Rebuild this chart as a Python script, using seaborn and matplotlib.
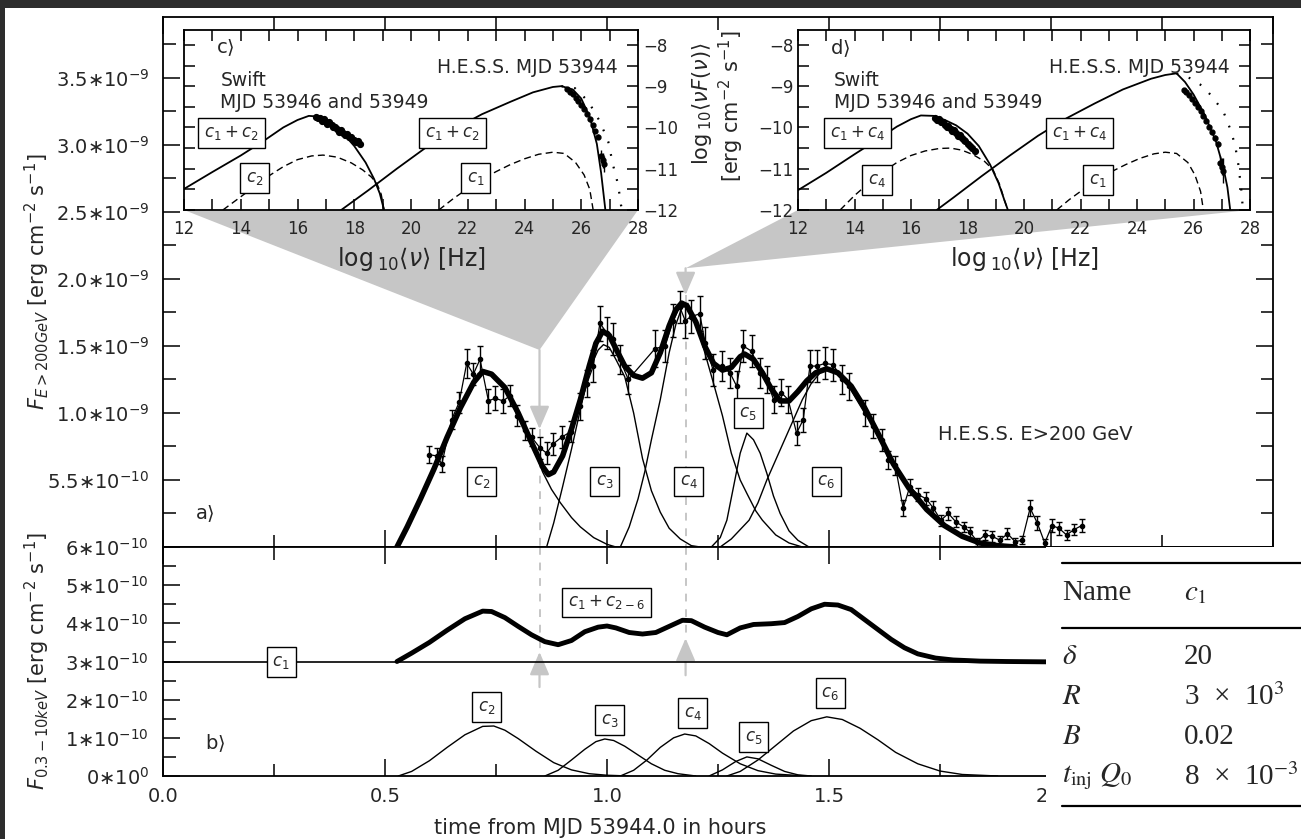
# Light curve + SED insets (H.E.S.S. / Swift), redrawn with seaborn
import matplotlib
matplotlib.use("Agg")
import matplotlib.pyplot as plt
import seaborn as sns
from matplotlib.patches import Polygon, Rectangle
from matplotlib.lines import Line2D
from matplotlib.ticker import MultipleLocator, FixedLocator, FixedFormatter

# ---------------- panel a: H.E.S.S. E>200 GeV (flux in 1e-9 erg cm-2 s-1) ----------------
hess_t = [0.598, 0.616, 0.628, 0.650, 0.667, 0.684, 0.699, 0.714, 0.733, 0.748, 0.766, 0.782,
          0.797, 0.815, 0.830, 0.849, 0.864, 0.879, 0.898, 0.918, 0.939, 0.955, 0.969, 0.984,
          0.999, 1.014, 1.029, 1.048, 1.108, 1.131, 1.149, 1.164, 1.176, 1.190, 1.209, 1.221,
          1.239, 1.258, 1.277, 1.292, 1.307, 1.326, 1.345, 1.360, 1.375, 1.393, 1.408, 1.427,
          1.442, 1.457, 1.472, 1.491, 1.510, 1.529, 1.544, 1.580, 1.600, 1.619, 1.634, 1.649,
          1.667, 1.682, 1.701, 1.719, 1.735, 1.752, 1.769, 1.785, 1.803, 1.818, 1.834, 1.851,
          1.868, 1.885, 1.902, 1.919, 1.935, 1.953, 1.969, 1.986, 2.002, 2.018, 2.035, 2.052, 2.069]
hess_f = [0.69, 0.68, 0.62, 0.95, 1.08, 1.37, 1.29, 1.40, 1.09, 1.11, 1.09, 1.13,
          0.98, 0.87, 0.82, 0.74, 0.70, 0.77, 0.82, 0.86, 1.05, 1.22, 1.35, 1.67,
          1.60, 1.55, 1.40, 1.25, 1.48, 1.50, 1.69, 1.79, 1.69, 1.72, 1.74, 1.52,
          1.32, 1.35, 1.30, 1.20, 1.50, 1.46, 1.30, 1.25, 1.10, 1.15, 1.10, 0.85,
          0.95, 1.35, 1.35, 1.37, 1.36, 1.25, 1.20, 1.00, 0.90, 0.80, 0.65, 0.61,
          0.29, 0.45, 0.39, 0.36, 0.29, 0.20, 0.25, 0.19, 0.15, 0.11, 0.04, 0.09,
          0.08, 0.05, 0.10, 0.04, 0.05, 0.29, 0.18, 0.03, 0.16, 0.14, 0.09, 0.13, 0.16]
hess_err = [0.06, 0.06, 0.06, 0.07, 0.08, 0.11, 0.08, 0.10, 0.09, 0.09, 0.09, 0.08,
            0.08, 0.07, 0.07, 0.08, 0.08, 0.08, 0.08, 0.08, 0.10, 0.10, 0.12, 0.13,
            0.12, 0.12, 0.11, 0.11, 0.14, 0.12, 0.12, 0.12, 0.13, 0.12, 0.13, 0.12,
            0.12, 0.11, 0.11, 0.11, 0.12, 0.12, 0.11, 0.10, 0.10, 0.10, 0.10, 0.09,
            0.09, 0.12, 0.12, 0.12, 0.12, 0.11, 0.10, 0.10, 0.09, 0.08, 0.07, 0.07,
            0.06, 0.06, 0.05, 0.05, 0.05, 0.04, 0.05, 0.04, 0.04, 0.04, 0.03, 0.04,
            0.04, 0.03, 0.04, 0.03, 0.03, 0.06, 0.05, 0.03, 0.05, 0.05, 0.04, 0.04, 0.05]

# model: sum of components (thick) and single components
tot_a_t = [0.527, 0.55, 0.58, 0.61, 0.64, 0.67, 0.70, 0.72, 0.74, 0.77, 0.80, 0.83, 0.855, 0.868,
           0.88, 0.90, 0.92, 0.94, 0.96, 0.975, 0.99, 1.005, 1.02, 1.04, 1.06, 1.08, 1.10, 1.12,
           1.14, 1.155, 1.168, 1.18, 1.20, 1.22, 1.24, 1.26, 1.28, 1.30, 1.31, 1.33, 1.35, 1.37,
           1.39, 1.41, 1.43, 1.45, 1.47, 1.495, 1.52, 1.55, 1.58, 1.61, 1.645, 1.68, 1.72, 1.76,
           1.80, 1.84, 1.88, 1.92]
tot_a_f = [0.0, 0.15, 0.36, 0.58, 0.82, 1.04, 1.23, 1.31, 1.29, 1.19, 1.00, 0.78, 0.60, 0.54,
           0.56, 0.68, 0.88, 1.10, 1.35, 1.52, 1.61, 1.58, 1.48, 1.35, 1.28, 1.26, 1.30, 1.45,
           1.65, 1.77, 1.82, 1.80, 1.68, 1.50, 1.37, 1.32, 1.34, 1.42, 1.44, 1.40, 1.30, 1.18,
           1.09, 1.09, 1.16, 1.24, 1.30, 1.33, 1.30, 1.20, 1.04, 0.85, 0.62, 0.44, 0.28, 0.16,
           0.08, 0.03, 0.01, 0.0]
c2_a_t = [0.527, 0.55, 0.58, 0.61, 0.64, 0.67, 0.70, 0.72, 0.74, 0.77, 0.80, 0.83, 0.855, 0.875,
          0.895, 0.92, 0.94, 0.97, 1.0, 1.02]
c2_a_f = [0.0, 0.15, 0.36, 0.58, 0.82, 1.04, 1.23, 1.31, 1.29, 1.19, 1.00, 0.78, 0.56, 0.43,
          0.33, 0.22, 0.15, 0.07, 0.02, 0.0]
c3_a_t = [0.864, 0.88, 0.90, 0.92, 0.945, 0.965, 0.98, 0.992, 1.005, 1.02, 1.04, 1.06, 1.08,
          1.10, 1.12, 1.14, 1.165, 1.19, 1.21]
c3_a_f = [0.0, 0.18, 0.45, 0.73, 1.10, 1.36, 1.47, 1.51, 1.49, 1.40, 1.27, 1.00, 0.66,
          0.42, 0.26, 0.14, 0.06, 0.01, 0.0]
c4_a_t = [1.03, 1.05, 1.07, 1.085, 1.10, 1.12, 1.14, 1.155, 1.168, 1.178, 1.19, 1.21, 1.24,
          1.26, 1.28, 1.30, 1.315, 1.335, 1.35, 1.38, 1.41, 1.44]
c4_a_f = [0.0, 0.15, 0.36, 0.56, 0.80, 1.10, 1.45, 1.66, 1.78, 1.81, 1.76, 1.57, 1.22,
          0.98, 0.70, 0.50, 0.40, 0.27, 0.20, 0.09, 0.03, 0.0]
c5_a_t = [1.235, 1.255, 1.27, 1.285, 1.30, 1.315, 1.33, 1.345, 1.36, 1.375, 1.39, 1.41, 1.43, 1.455]
c5_a_f = [0.0, 0.07, 0.20, 0.45, 0.70, 0.85, 0.80, 0.70, 0.55, 0.38, 0.25, 0.12, 0.05, 0.0]
c6_a_t = [1.255, 1.28, 1.30, 1.32, 1.34, 1.36, 1.38, 1.40, 1.42, 1.44, 1.46, 1.48, 1.50, 1.52,
          1.55, 1.58, 1.61, 1.645, 1.68, 1.72, 1.76, 1.80, 1.84, 1.88, 1.92]
c6_a_f = [0.0, 0.06, 0.13, 0.20, 0.33, 0.50, 0.65, 0.80, 0.95, 1.10, 1.22, 1.30, 1.33, 1.30,
          1.20, 1.04, 0.85, 0.62, 0.44, 0.28, 0.16, 0.08, 0.03, 0.01, 0.0]

# ---------------- panel b: 0.3-10 keV model flux (in 1e-10 erg cm-2 s-1) ----------------
c1_b_t = [0.0, 2.5]
c1_b_f = [3.0, 3.0]
tot_b_t = [0.527, 0.56, 0.60, 0.64, 0.68, 0.72, 0.74, 0.77, 0.80, 0.83, 0.86, 0.89, 0.92, 0.95,
           0.98, 1.0, 1.02, 1.05, 1.08, 1.11, 1.14, 1.17, 1.19, 1.22, 1.25, 1.27, 1.30, 1.33,
           1.37, 1.40, 1.43, 1.46, 1.49, 1.52, 1.55, 1.58, 1.61, 1.64, 1.67, 1.70, 1.74, 1.78,
           1.84, 1.90, 2.0]
tot_b_f = [3.0, 3.22, 3.50, 3.82, 4.12, 4.32, 4.31, 4.15, 3.92, 3.70, 3.52, 3.44, 3.55, 3.78,
           3.90, 3.93, 3.88, 3.76, 3.72, 3.76, 3.92, 4.08, 4.07, 3.90, 3.76, 3.70, 3.88, 3.97,
           3.99, 4.02, 4.18, 4.38, 4.50, 4.48, 4.36, 4.10, 3.84, 3.58, 3.36, 3.20, 3.09, 3.04,
           3.01, 3.0, 2.99]
c2_b_t = [0.53, 0.56, 0.60, 0.64, 0.68, 0.72, 0.745, 0.77, 0.80, 0.84, 0.88, 0.92, 0.96, 1.0, 1.05]
c2_b_f = [0.0, 0.12, 0.40, 0.75, 1.08, 1.30, 1.31, 1.20, 0.98, 0.65, 0.35, 0.16, 0.06, 0.02, 0.0]
c3_b_t = [0.86, 0.89, 0.92, 0.95, 0.975, 0.995, 1.015, 1.04, 1.07, 1.10, 1.13, 1.16, 1.20]
c3_b_f = [0.0, 0.15, 0.42, 0.70, 0.90, 0.97, 0.93, 0.78, 0.55, 0.32, 0.15, 0.06, 0.0]
c4_b_t = [1.03, 1.06, 1.09, 1.12, 1.15, 1.175, 1.20, 1.23, 1.26, 1.30, 1.34, 1.38, 1.45]
c4_b_f = [0.0, 0.15, 0.42, 0.75, 1.00, 1.10, 1.05, 0.85, 0.60, 0.32, 0.14, 0.05, 0.0]
c5_b_t = [1.23, 1.26, 1.29, 1.315, 1.34, 1.37, 1.40, 1.43, 1.46]
c5_b_f = [0.0, 0.16, 0.38, 0.50, 0.45, 0.28, 0.12, 0.03, 0.0]
c6_b_t = [1.27, 1.30, 1.34, 1.38, 1.42, 1.46, 1.495, 1.53, 1.57, 1.61, 1.65, 1.70, 1.75, 1.80, 1.88]
c6_b_f = [0.0, 0.12, 0.42, 0.80, 1.18, 1.45, 1.55, 1.48, 1.25, 0.95, 0.62, 0.32, 0.13, 0.04, 0.0]

# ---------------- inset c: SED with c1 + c2 (log10 nu, log10 nuFnu) ----------------
syn_c_x = [12.0, 13.0, 14.0, 14.8, 15.5, 16.0, 16.4, 16.8, 17.2, 17.6, 18.0, 18.4, 18.7, 18.9, 19.05]
syn_c_y = [-11.49, -11.08, -10.68, -10.33, -10.0, -9.82, -9.72, -9.74, -9.9, -10.14, -10.45,
           -10.85, -11.25, -11.6, -12.0]
ic_c_x = [17.54, 18.5, 19.5, 20.5, 21.5, 22.5, 23.5, 24.3, 25.0, 25.3, 25.7, 26.0, 26.3, 26.55, 26.7, 26.85]
ic_c_y = [-12.0, -11.52, -11.0, -10.5, -10.05, -9.68, -9.38, -9.15, -9.02, -9.0, -9.08, -9.3,
          -9.75, -10.4, -11.1, -12.0]
dsyn_c_x = [13.37, 14.0, 14.5, 15.0, 15.5, 16.0, 16.5, 16.9, 17.4, 17.9, 18.3, 18.6, 18.8, 18.95, 19.05]
dsyn_c_y = [-12.0, -11.68, -11.42, -11.17, -10.95, -10.78, -10.69, -10.67, -10.72, -10.86,
            -11.03, -11.2, -11.36, -11.62, -12.0]
dic_c_x = [20.98, 21.5, 22.0, 22.5, 23.0, 23.5, 24.0, 24.5, 25.0, 25.4, 25.8, 26.1, 26.3, 26.42]
dic_c_y = [-12.0, -11.72, -11.48, -11.26, -11.07, -10.9, -10.76, -10.65, -10.6, -10.63,
           -10.85, -11.15, -11.5, -12.0]
dot_c_x = [25.3, 25.78, 26.25, 26.66, 26.95, 27.12, 27.3, 27.4, 27.45]
dot_c_y = [-9.0, -9.05, -9.37, -9.86, -10.34, -10.91, -11.39, -11.88, -12.0]
xr_c_x = [16.65, 16.72, 16.8, 16.85, 16.92, 17.0, 17.05, 17.12, 17.2, 17.25, 17.32, 17.4,
          17.45, 17.52, 17.6, 17.68, 17.75, 17.82, 17.9, 17.98, 18.05, 18.12, 18.2]
xr_c_y = [-9.74, -9.78, -9.76, -9.84, -9.8, -9.86, -9.92, -9.88, -9.95, -10.0, -9.98, -10.05,
          -10.1, -10.06, -10.14, -10.18, -10.15, -10.24, -10.22, -10.3, -10.35, -10.32, -10.4]
tev_c_x = [25.5, 25.6, 25.7, 25.8, 25.9, 26.0, 26.1, 26.2, 26.3, 26.4, 26.5, 26.6, 26.7, 26.75, 26.8]
tev_c_y = [-9.08, -9.13, -9.2, -9.28, -9.36, -9.46, -9.56, -9.68, -9.8, -9.94, -10.08, -10.22,
           -10.7, -10.8, -10.88]
tev_c_err = [0.03, 0.03, 0.03, 0.03, 0.03, 0.03, 0.04, 0.04, 0.04, 0.05, 0.05, 0.06, 0.15, 0.18, 0.2]

# ---------------- inset d: SED with c1 + c4 ----------------
syn_d_x = [12.0, 13.0, 14.0, 14.8, 15.5, 16.0, 16.35, 16.8, 17.2, 17.6, 18.0, 18.4, 18.8, 19.1, 19.3, 19.43]
syn_d_y = [-11.52, -11.1, -10.65, -10.3, -9.98, -9.8, -9.71, -9.72, -9.82, -9.95, -10.15,
           -10.45, -10.9, -11.35, -11.75, -12.0]
ic_d_x = [16.91, 17.5, 18.5, 19.5, 20.5, 21.5, 22.5, 23.5, 24.5, 25.0, 25.4, 25.7, 26.0,
          26.4, 26.8, 27.05, 27.2, 27.3]
ic_d_y = [-12.0, -11.7, -11.18, -10.68, -10.2, -9.78, -9.42, -9.08, -8.82, -8.73, -8.69,
          -8.9, -9.2, -9.7, -10.35, -10.95, -11.45, -12.0]
dsyn_d_x = [13.49, 14.0, 14.5, 15.0, 15.5, 16.0, 16.5, 17.0, 17.4, 17.8, 18.2, 18.6, 18.9,
            19.15, 19.3, 19.43]
dsyn_d_y = [-12.0, -11.65, -11.35, -11.08, -10.85, -10.68, -10.57, -10.51, -10.5, -10.55,
            -10.66, -10.82, -11.02, -11.4, -11.75, -12.0]
dic_d_x = [21.16, 21.6, 22.1, 22.6, 23.1, 23.6, 24.1, 24.6, 25.0, 25.4, 25.8, 26.05, 26.25, 26.35]
dic_d_y = [-12.0, -11.75, -11.5, -11.27, -11.07, -10.9, -10.75, -10.64, -10.6, -10.63,
           -10.85, -11.15, -11.55, -12.0]
dot_d_x = [25.4, 25.88, 26.35, 26.7, 27.06, 27.29, 27.47, 27.59, 27.7, 27.75]
dot_d_y = [-8.69, -8.81, -9.01, -9.29, -9.62, -10.02, -10.42, -10.91, -11.56, -12.0]
xr_d_x = [16.85, 16.92, 17.0, 17.06, 17.12, 17.2, 17.26, 17.32, 17.4, 17.46, 17.52, 17.6,
          17.66, 17.72, 17.8, 17.86, 17.92, 18.0, 18.08, 18.15, 18.25]
xr_d_y = [-9.76, -9.82, -9.8, -9.88, -9.86, -9.93, -9.98, -9.96, -10.04, -10.08, -10.06,
          -10.14, -10.2, -10.18, -10.26, -10.3, -10.34, -10.4, -10.46, -10.5, -10.58]
tev_d_x = [25.65, 25.75, 25.85, 25.95, 26.05, 26.15, 26.25, 26.35, 26.45, 26.55, 26.65,
           26.75, 26.85, 26.95, 27.0, 27.05]
tev_d_y = [-9.09, -9.15, -9.22, -9.3, -9.4, -9.5, -9.6, -9.72, -9.85, -9.98, -10.12, -10.25,
           -10.4, -10.85, -10.95, -11.05]
tev_d_err = [0.03, 0.03, 0.03, 0.03, 0.03, 0.04, 0.04, 0.04, 0.04, 0.05, 0.05, 0.06, 0.08,
             0.15, 0.2, 0.3]

# tick labels
ya_ticks = [0.5, 1.0, 1.5, 2.0, 2.5, 3.0, 3.5]
ya_labels = ['5.5∗10$^{-10}$', '1.0∗10$^{-9}$', '1.5∗10$^{-9}$', '2.0∗10$^{-9}$',
             '2.5∗10$^{-9}$', '3.0∗10$^{-9}$', '3.5∗10$^{-9}$']
yb_ticks = [0, 1, 2, 3, 4, 5, 6]
yb_labels = ['0∗10$^{0}$', '1∗10$^{-10}$', '2∗10$^{-10}$', '3∗10$^{-10}$', '4∗10$^{-10}$',
             '5∗10$^{-10}$', '6∗10$^{-10}$']
xb_ticks = [0.0, 0.5, 1.0, 1.5, 2.0]
xb_labels = ['0.0', '0.5', '1.0', '1.5', '2.0']

# zoom markers: time of SED snapshots, wedge apex, arrow tips
snap_t = [0.848, 1.177]
apex_f = [1.47, 2.08]
tip_a = [0.88, 1.88]
tip_b = [3.25, 3.61]
base_b = [2.33, 2.64]

# parameter table
table_names = ['Name', r'$\delta$', r'$R$', r'$B$', r'$t_{\rm inj}\ Q_0$']
table_values = [r'$c_1$', '20', '3  ×  10$^{3}$', '0.02', '8  ×  10$^{-3}$']

sns.set_style("ticks")
plt.rcParams['font.family'] = ['DejaVu Sans']
plt.rcParams['mathtext.fontset'] = 'dejavusans'

W, H = 1301, 839
GRAY = '#c6c6c6'
fig = plt.figure(figsize=(W / 100, H / 100), dpi=100, facecolor='#2d2d2d')


def rect(x0, y0, x1, y1):
    return [x0 / W, 1 - y1 / H, (x1 - x0) / W, (y1 - y0) / H]


def fxy(px, py):
    return (px / W, 1 - py / H)


fig.add_artist(Rectangle((5 / W, 0), 1, 1 - 8 / H, transform=fig.transFigure,
                         fc='white', ec='none', zorder=-5))

ax_a = fig.add_axes(rect(163, 17, 1273, 547))
ax_b = fig.add_axes(rect(163, 547, 1273, 776))
ins_c = fig.add_axes(rect(184, 30, 638, 210))
ins_d = fig.add_axes(rect(798, 30, 1250, 210))
for a in (ax_a, ax_b):
    a.set_zorder(1)
for a in (ins_c, ins_d):
    a.set_zorder(3)


def style(ax, major, minor, lab):
    ax.tick_params(which='both', direction='in', top=True, right=True, width=1.1,
                   color='black', labelsize=lab)
    ax.tick_params(which='major', length=major)
    ax.tick_params(which='minor', length=minor)
    for s in ax.spines.values():
        s.set_linewidth(1.3)
        s.set_color('black')
    ax.set_xlabel('')
    ax.set_ylabel('')


def line(ax, x, y, lw=1.0, ls='-', z=2):
    sns.lineplot(x=x, y=y, ax=ax, color='black', lw=lw, linestyle=ls, sort=False,
                 estimator=None, errorbar=None, legend=False, zorder=z)


def tag(ax, x, y, s, size=12):
    ax.text(x, y, s, ha='center', va='center', fontsize=size, zorder=6,
            bbox=dict(boxstyle='square,pad=0.35', fc='white', ec='black', lw=1))


# ---- panel a ----
for tt, ff in [(c2_a_t, c2_a_f), (c3_a_t, c3_a_f), (c4_a_t, c4_a_f), (c5_a_t, c5_a_f), (c6_a_t, c6_a_f)]:
    line(ax_a, tt, ff, lw=1.0)
line(ax_a, hess_t, hess_f, lw=0.9, z=2.5)
ax_a.errorbar(hess_t, hess_f, yerr=hess_err, fmt='o', ms=3, color='black', elinewidth=1,
              capsize=2, capthick=1, zorder=2.5)
line(ax_a, tot_a_t, tot_a_f, lw=4, z=3)
ax_a.set_xlim(0, 2.5)
ax_a.set_ylim(0, 3.955)
ax_a.xaxis.set_major_locator(MultipleLocator(0.5))
ax_a.xaxis.set_minor_locator(MultipleLocator(0.25))
ax_a.yaxis.set_major_locator(FixedLocator(ya_ticks))
ax_a.yaxis.set_major_formatter(FixedFormatter(ya_labels))
ax_a.yaxis.set_minor_locator(MultipleLocator(0.25))
style(ax_a, 12, 9, 14)
ax_a.tick_params(axis='y', pad=10)
ax_a.tick_params(axis='x', labelbottom=False)
for t, s in zip([0.718, 0.995, 1.184, 1.494], [r'$c_2$', r'$c_3$', r'$c_4$', r'$c_6$']):
    tag(ax_a, t, 0.49, s)
tag(ax_a, 1.318, 1.0, r'$c_5$')
ax_a.text(0.072, 0.25, r'a$\rangle$', fontsize=14, va='center')
ax_a.text(1.745, 0.836, 'H.E.S.S. E>200 GeV', fontsize=14, va='center')

# ---- panel b ----
line(ax_b, c1_b_t, c1_b_f, lw=1.2)
for tt, ff in [(c2_b_t, c2_b_f), (c3_b_t, c3_b_f), (c4_b_t, c4_b_f), (c5_b_t, c5_b_f), (c6_b_t, c6_b_f)]:
    line(ax_b, tt, ff, lw=1.0)
line(ax_b, tot_b_t, tot_b_f, lw=3.5, z=3)
ax_b.set_xlim(0, 2.5)
ax_b.set_ylim(0, 6)
ax_b.xaxis.set_major_locator(FixedLocator(xb_ticks))
ax_b.xaxis.set_major_formatter(FixedFormatter(xb_labels))
ax_b.xaxis.set_minor_locator(MultipleLocator(0.25))
ax_b.yaxis.set_major_locator(FixedLocator(yb_ticks))
ax_b.yaxis.set_major_formatter(FixedFormatter(yb_labels))
ax_b.yaxis.set_minor_locator(MultipleLocator(0.5))
style(ax_b, 12, 9, 14)
ax_b.tick_params(axis='y', pad=10)
ax_b.tick_params(axis='x', pad=8)
tag(ax_b, 0.266, 2.98, r'$c_1$')
tag(ax_b, 0.729, 1.80, r'$c_2$')
tag(ax_b, 1.006, 1.47, r'$c_3$')
tag(ax_b, 1.193, 1.65, r'$c_4$')
tag(ax_b, 1.33, 1.02, r'$c_5$')
tag(ax_b, 1.503, 2.17, r'$c_6$')
tag(ax_b, 0.999, 4.55, r'$c_1+c_{2-6}$')
ax_b.text(0.095, 0.86, r'b$\rangle$', fontsize=14, va='center')

# ---- zoom arrows ----
arrow = dict(arrowstyle='-|>,head_length=0.7,head_width=0.3', color=GRAY, lw=1.6,
             shrinkA=0, shrinkB=0, mutation_scale=20)
for t, af, ta, tb, bb in zip(snap_t, apex_f, tip_a, tip_b, base_b):
    ax_a.annotate('', xy=(t, ta), xytext=(t, af), arrowprops=arrow, zorder=1.5)
    ax_a.plot([t, t], [ta, 0], color=GRAY, lw=1.4, ls=(0, (4, 4)), zorder=1.5)
    ax_b.plot([t, t], [6, tb], color=GRAY, lw=1.4, ls=(0, (4, 4)), zorder=1.5)
    ax_b.annotate('', xy=(t, tb), xytext=(t, bb), arrowprops=arrow, zorder=1.5)

inv = fig.transFigure.inverted()
for ins, t, af in [(ins_c, snap_t[0], apex_f[0]), (ins_d, snap_t[1], apex_f[1])]:
    p0 = inv.transform(ins.transAxes.transform((0, 0)))
    p1 = inv.transform(ins.transAxes.transform((1, 0)))
    pa = inv.transform(ax_a.transData.transform((t, af)))
    fig.add_artist(Polygon([p0, p1, pa], closed=True, transform=fig.transFigure,
                           fc=GRAY, ec='none', zorder=2))

# ---- insets ----
for ins, d in [(ins_c, dict(syn=(syn_c_x, syn_c_y), ic=(ic_c_x, ic_c_y), ds=(dsyn_c_x, dsyn_c_y),
                              di=(dic_c_x, dic_c_y), dot=(dot_c_x, dot_c_y), xr=(xr_c_x, xr_c_y),
                              tev=(tev_c_x, tev_c_y, tev_c_err))),
               (ins_d, dict(syn=(syn_d_x, syn_d_y), ic=(ic_d_x, ic_d_y), ds=(dsyn_d_x, dsyn_d_y),
                              di=(dic_d_x, dic_d_y), dot=(dot_d_x, dot_d_y), xr=(xr_d_x, xr_d_y),
                              tev=(tev_d_x, tev_d_y, tev_d_err)))]:
    line(ins, *d['syn'], lw=1.3)
    line(ins, *d['ic'], lw=1.3)
    line(ins, *d['ds'], lw=1.0, ls=(0, (5, 3)))
    line(ins, *d['di'], lw=1.0, ls=(0, (5, 3)))
    line(ins, *d['dot'], lw=1.6, ls=(0, (0.8, 5)))
    ins.plot(*d['xr'], 'o', ms=4.2, color='black', zorder=4)
    tx, ty, te = d['tev']
    ins.errorbar(tx, ty, yerr=te, fmt='o', ms=3.5, color='black', elinewidth=1, zorder=4)
    ins.set_xlim(12, 28)
    ins.set_ylim(-12, -7.64)
    ins.xaxis.set_major_locator(MultipleLocator(2))
    ins.xaxis.set_minor_locator(MultipleLocator(1))
    ins.yaxis.set_major_locator(MultipleLocator(1))
    ins.yaxis.set_minor_locator(MultipleLocator(0.5))
    style(ins, 8, 8, 12)
    ins.tick_params(axis='x', pad=7)
    ins.set_xlabel(r'log$\,_{10}\langle\nu\rangle$ [Hz]', fontsize=17, labelpad=5)
    ins.text(0.07, 0.9, r'c$\rangle$' if ins is ins_c else r'd$\rangle$', transform=ins.transAxes,
             fontsize=14, va='center')
    ins.text(0.08, 0.72, 'Swift', transform=ins.transAxes, fontsize=13.5, va='center')
    ins.text(0.08, 0.60, 'MJD 53946 and 53949', transform=ins.transAxes, fontsize=13.5, va='center')
    ins.text(0.955, 0.79, 'H.E.S.S. MJD 53944', transform=ins.transAxes, fontsize=13.5,
             va='center', ha='right')

ins_c.tick_params(axis='y', labelleft=False, labelright=True)
tag(ins_c, 13.68, -10.13, r'$c_1+c_2$')
tag(ins_c, 14.49, -11.22, r'$c_2$')
tag(ins_c, 21.47, -10.13, r'$c_1+c_2$')
tag(ins_c, 22.28, -11.22, r'$c_1$')
tag(ins_d, 14.12, -10.13, r'$c_1+c_4$')
tag(ins_d, 14.8, -11.27, r'$c_4$')
tag(ins_d, 21.98, -10.13, r'$c_1+c_4$')
tag(ins_d, 22.62, -11.27, r'$c_1$')

# ---- axis titles ----
fig.text(*fxy(702, 104), r'log$\,_{10}\langle\nu F(\nu)\rangle$', rotation=90, ha='center',
         va='center', fontsize=15)
fig.text(*fxy(731, 106), r'[erg cm$^{-2}$ s$^{-1}$]', rotation=90, ha='center',
         va='center', fontsize=15)
fig.text(*fxy(37, 282), r'$F_{E>200GeV}$ [erg cm$^{-2}$ s$^{-1}$]', rotation=90,
         ha='center', va='center', fontsize=15)
fig.text(*fxy(37, 661), r'$F_{0.3-10keV}$ [erg cm$^{-2}$ s$^{-1}$]', rotation=90,
         ha='center', va='center', fontsize=15)
fig.text(*fxy(600, 828), 'time from MJD 53944.0 in hours', ha='center', va='center', fontsize=15)

# ---- parameter table pasted on the lower right ----
fig.add_artist(Rectangle(fxy(1046, 839), (W - 1046) / W, (839 - 547) / H,
                         transform=fig.transFigure, fc='white', ec='none', zorder=8))
for yy in (563, 628, 806):
    fig.add_artist(Line2D([1062 / W, 1.0], [1 - yy / H] * 2, transform=fig.transFigure,
                          color='black', lw=1.6, zorder=9))
for name, val, yy in zip(table_names, table_values, [593, 657, 697, 737, 777]):
    fig.text(*fxy(1062, yy), name, fontsize=21, family='Liberation Serif',
             math_fontfamily='stix', va='center', zorder=10)
    fig.text(*fxy(1184, yy), val, fontsize=21, family='Liberation Serif',
             math_fontfamily='stix', va='center', zorder=10)

fig.savefig('out.png', dpi=100, facecolor=fig.get_facecolor())
